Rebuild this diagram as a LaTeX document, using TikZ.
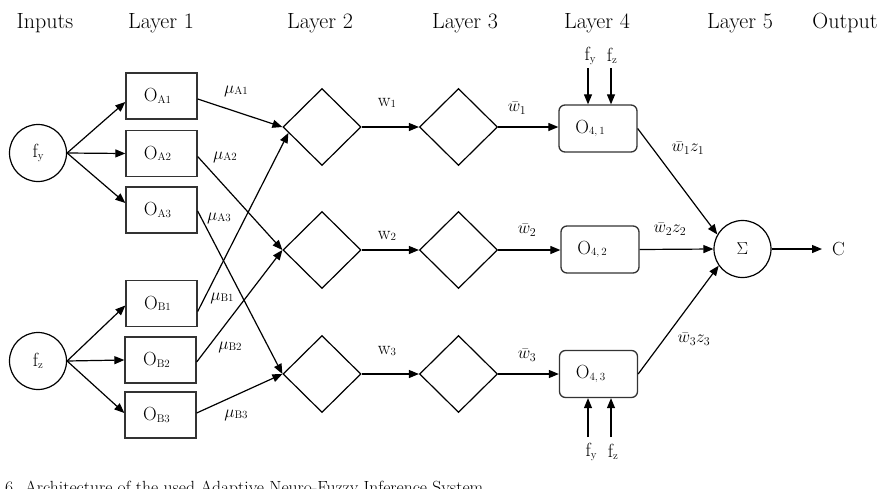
\documentclass[tikz,border=0pt]{standalone}
\usetikzlibrary{arrows.meta,shapes.geometric}
% small, slightly lowered index used in the node names
\newcommand\lsub[1]{\raisebox{-1.5pt}{\fontsize{11}{11}\selectfont #1}}
\begin{document}
\begin{tikzpicture}[x=1pt,y=-1pt,
  arr/.style={-{Triangle[length=10pt,width=8pt]}, line width=1.2pt},
  mfbox/.style={draw=black!80, line width=1.3pt, minimum width=71pt, minimum height=46pt,
    inner sep=0pt, font=\fontsize{19}{21}\selectfont},
  rbox/.style={mfbox, rounded corners=6pt, minimum width=78pt, minimum height=47pt},
  dia/.style={draw, diamond, line width=1.2pt, minimum width=78pt, minimum height=77pt, inner sep=0pt},
  circ/.style={draw, circle, line width=1.2pt, minimum size=57pt, inner sep=0pt,
    font=\fontsize{19}{21}\selectfont},
  head/.style={font=\fontsize{22}{26}\selectfont},
  lbl/.style={font=\fontsize{19}{21}\selectfont, inner sep=0pt},
  mlbl/.style={font=\fontsize{18}{20}\selectfont, inner sep=0pt},
]
\useasboundingbox (0,0) rectangle (889,488);

% column headings
\node[head] (hin) at (45,23) {Inputs};
\node[head] (h1)  at (161,23) {Layer 1};
\node[head] (h2)  at (320,23) {Layer 2};
\node[head] (h3)  at (465,23) {Layer 3};
\node[head] (h4)  at (597,23) {Layer 4};
\node[head] (h5)  at (740,23) {Layer 5};
\node[head] (hout) at (845,23) {Output};

% inputs
\node[circ] (fy) at (38,153) {f\lsub{y}};
\node[circ] (fz) at (38,361) {f\lsub{z}};

% layer 1: membership functions
\node[mfbox] (oa1) at (161.5,96)  {\hspace*{-8pt}O\lsub{A1}};
\node[mfbox] (oa2) at (161.5,153.5) {\hspace*{-8pt}O\lsub{A2}};
\node[mfbox] (oa3) at (161.5,210) {\hspace*{-8pt}O\lsub{A3}};
\node[mfbox] (ob1) at (161.5,303.5) {\hspace*{-8pt}O\lsub{B1}};
\node[mfbox] (ob2) at (160.5,360) {\hspace*{-8pt}O\lsub{B2}};
\node[mfbox] (ob3) at (160.5,415) {\hspace*{-8pt}O\lsub{B3}};

% layers 2 and 3
\node[dia] (d1) at (322,127) {};
\node[dia] (d2) at (322,250) {};
\node[dia] (d3) at (322,374) {};
\node[dia] (e1) at (458.5,127) {};
\node[dia] (e2) at (458.5,250) {};
\node[dia] (e3) at (458.5,374) {};

% layer 4
\node[rbox] (o41) at (598,128.5) {\hspace*{-16pt}O\lsub{4,\,1}};
\node[rbox] (o42) at (600,249.5) {\hspace*{-16pt}O\lsub{4,\,2}};
\node[rbox] (o43) at (598.5,374) {\hspace*{-16pt}O\lsub{4,\,3}};

% layer 5 and output
\node[circ] (sig) at (742.5,249) {$\Sigma$};
\coordinate (cend) at (822,249);
\node[lbl, anchor=west] (cout) at (832,249) {C};

% inputs to layer 1
\draw[arr] (fy.east) -- ([yshift=-6pt]oa1.west);
\draw[arr] (fy.east) -- (oa2.west);
\draw[arr] (fy.east) -- ([yshift=7pt]oa3.west);
\draw[arr] (fz.east) -- ([yshift=-2pt]ob1.west);
\draw[arr] (fz.east) -- (ob2.west);
\draw[arr] (fz.east) -- ([yshift=2pt]ob3.west);

% layer 1 to layer 2
\draw[arr] ([yshift=-3pt]oa1.east) -- (d1.west);
\draw[arr] ([yshift=-3pt]oa2.east) -- (d2.west);
\draw[arr] ([yshift=-1pt]oa3.east) -- (d3.west);
\draw[arr] ([yshift=-8pt]ob1.east) -- (d1.190);
\draw[arr] ([yshift=-2pt]ob2.east) -- (d2.west);
\draw[arr] ([yshift=2pt]ob3.east) -- (d3.west);

\node[lbl] (la1) at (236,91)  {$\mu$\lsub{A1}};
\node[lbl] (la2) at (225,157) {$\mu$\lsub{A2}};
\node[lbl] (la3) at (219,218) {$\mu$\lsub{A3}};
\node[lbl] (lb1) at (222,298) {$\mu$\lsub{B1}};
\node[lbl] (lb2) at (230,347) {$\mu$\lsub{B2}};
\node[lbl] (lb3) at (236,415) {$\mu$\lsub{B3}};

% layer 2 to layer 3
\draw[arr] (d1.east) -- (e1.west);
\draw[arr] (d2.east) -- (e2.west);
\draw[arr] (d3.east) -- (e3.west);
\node[lbl] (lw1) at (387,103) {w\lsub{1}};
\node[lbl] (lw2) at (387,236) {w\lsub{2}};
\node[lbl] (lw3) at (387,351) {w\lsub{3}};

% layer 3 to layer 4
\draw[arr] (e1.east) -- (e1.east -| o41.west);
\draw[arr] (e2.east) -- (e2.east -| o42.west);
\draw[arr] (e3.east) -- (e3.east -| o43.west);
\node[mlbl] (lv1) at (517,108) {$\bar{w}_1$};
\node[mlbl] (lv2) at (527,230) {$\bar{w}_2$};
\node[mlbl] (lv3) at (527,355) {$\bar{w}_3$};

% consequent inputs of layer 4
\coordinate (ty) at (588,68);
\coordinate (tz) at (611,68);
\coordinate (by) at (588,437);
\coordinate (bz) at (611,437);
\draw[arr] (ty) -- (ty |- o41.north);
\draw[arr] (tz) -- (tz |- o41.north);
\draw[arr] (by) -- (by |- o43.south);
\draw[arr] (bz) -- (bz |- o43.south);
\node[lbl] (nty) at (590,56)  {f\lsub{y}};
\node[lbl] (ntz) at (612,56)  {f\lsub{z}};
\node[lbl] (nby) at (591,452) {f\lsub{y}};
\node[lbl] (nbz) at (613,452) {f\lsub{z}};

% layer 4 to layer 5
\draw[arr] (o41.east) -- (sig.150);
\draw[arr] (o42.east) -- (sig.west);
\draw[arr] (o43.east) -- (sig.215);
\node[mlbl] (lz1) at (688,148) {$\bar{w}_1 z_1$};
\node[mlbl] (lz2) at (670,229) {$\bar{w}_2 z_2$};
\node[mlbl] (lz3) at (694,339) {$\bar{w}_3 z_3$};

% output
\draw[arr] (sig.east) -- (cend);

% caption, cut by the lower edge
\node[anchor=base west, inner sep=0pt, font=\fontsize{17.6}{20}\selectfont] (cap) at (5,493)
  {6. Architecture of the used Adaptive Neuro-Fuzzy Inference System};
\end{tikzpicture}
\end{document}
